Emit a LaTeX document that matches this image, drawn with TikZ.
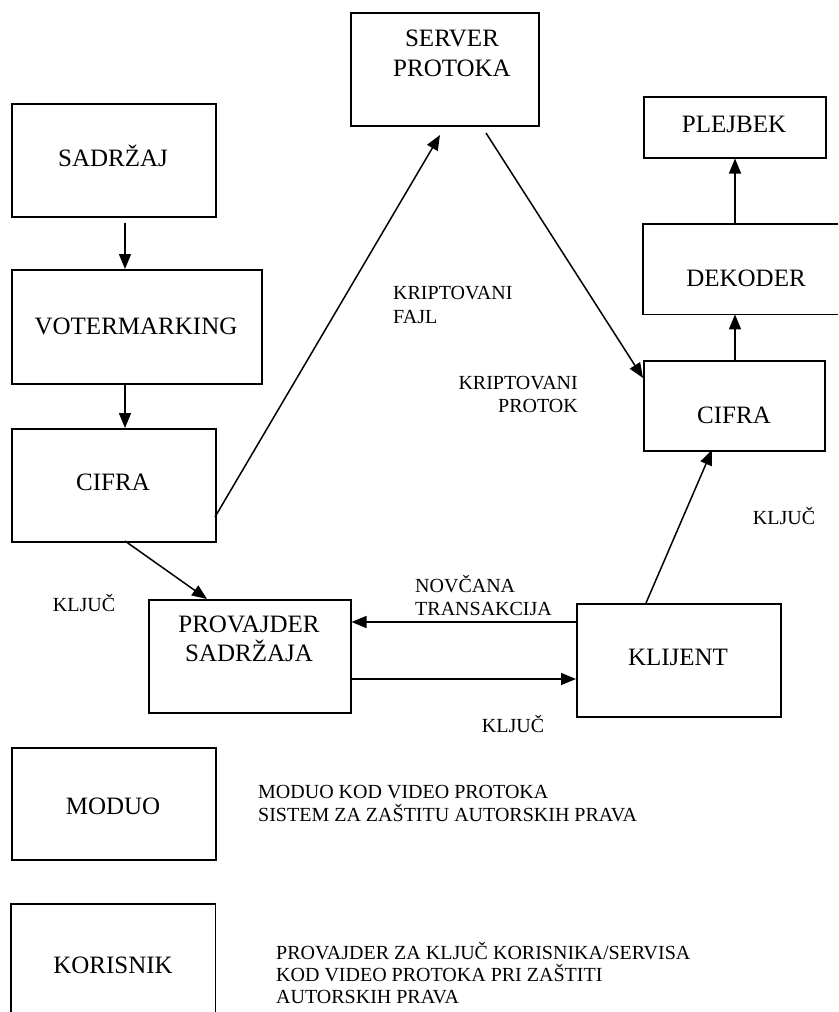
\documentclass[tikz,border=0pt]{standalone}
\usepackage{fontspec}
\setmainfont{Liberation Serif}
\usetikzlibrary{arrows.meta,calc}
\tikzset{
  box/.style={draw, line width=1.5pt, inner sep=0pt, anchor=north west},
  openbox/.style={draw=none, inner sep=0pt, anchor=north west},
  btxt/.style={inner sep=0pt, font=\fontsize{25}{30}\selectfont},
  ltxt/.style={inner sep=0pt, font=\fontsize{20}{24}\selectfont},
  arr/.style={line width=1.5pt, -{Triangle[length=15pt,width=12pt]}},
  edge/.style={line width=1.5pt}
}
\begin{document}
\begin{tikzpicture}[x=1pt,y=-1pt]
\useasboundingbox (0,0) rectangle (838,1012);
% boxes
\node[box, minimum width=188, minimum height=113] (server) at (350,12) {};
\node[box, minimum width=182, minimum height=61] (plejbek) at (643,96) {};
\node[box, minimum width=204, minimum height=113] (sadrzaj) at (11,103) {};
\node[box, minimum width=250, minimum height=114] (voter) at (11,269) {};
\node[openbox, minimum width=195, minimum height=90] (dekoder) at (643,224) {};
\draw[edge] (dekoder.north east) -- (dekoder.north west) -- (dekoder.south west) -- (dekoder.south east);
\node[box, minimum width=204, minimum height=113] (cifraL) at (11,428) {};
\node[box, minimum width=181, minimum height=90] (cifraR) at (643,360) {};
\node[box, minimum width=202, minimum height=113] (prov) at (148,599) {};
\node[box, minimum width=204, minimum height=113] (klijent) at (576,603) {};
\node[box, minimum width=204, minimum height=112] (moduo) at (11,747) {};
\node[openbox, minimum width=204, minimum height=108] (korisnik) at (11,904) {};
\draw[edge] (korisnik.south west) -- (korisnik.north west) -- (korisnik.north east) -- (korisnik.south east);
% box texts
\node[btxt, anchor=base] (tserver1) at (452,46) {SERVER};
\node[btxt, anchor=base] (tserver2) at (452,76) {PROTOKA};
\node[btxt, anchor=base] (tplejbek) at (734,132) {PLEJBEK};
\node[btxt, anchor=base] (tsadrzaj) at (113,166) {SADRŽAJ};
\node[btxt, anchor=base] (tvoter) at (136,334) {VOTERMARKING};
\node[btxt, anchor=base] (tdekoder) at (746,286) {DEKODER};
\node[btxt, anchor=base] (tcifraL) at (113,490) {CIFRA};
\node[btxt, anchor=base] (tcifraR) at (734,423) {CIFRA};
\node[btxt, anchor=base] (tprov1) at (249,632) {PROVAJDER};
\node[btxt, anchor=base] (tprov2) at (249,661) {SADRŽAJA};
\node[btxt, anchor=base] (tklijent) at (678,665) {KLIJENT};
\node[btxt, anchor=base] (tmoduo) at (113,814) {MODUO};
\node[btxt, anchor=base] (tkorisnik) at (113,973) {KORISNIK};
% labels
\node[ltxt, anchor=base west] (lkf1) at (393,299) {KRIPTOVANI};
\node[ltxt, anchor=base west] (lkf2) at (393,323) {FAJL};
\node[ltxt, anchor=base east] (lkp1) at (578,389) {KRIPTOVANI};
\node[ltxt, anchor=base east] (lkp2) at (578,412) {PROTOK};
\node[ltxt, anchor=base] (lkljucR) at (784,524) {KLJUČ};
\node[ltxt, anchor=base] (lkljucL) at (84,611) {KLJUČ};
\node[ltxt, anchor=base west] (lnov1) at (415,592) {NOVČANA};
\node[ltxt, anchor=base west] (lnov2) at (415,615) {TRANSAKCIJA};
\node[ltxt, anchor=base] (lkljucB) at (513,732) {KLJUČ};
\node[ltxt, anchor=base west] (lmod1) at (258,798) {MODUO KOD VIDEO PROTOKA};
\node[ltxt, anchor=base west] (lmod2) at (258,821) {SISTEM ZA ZAŠTITU AUTORSKIH PRAVA};
\node[ltxt, anchor=base west] (lkor1) at (276,959) {PROVAJDER ZA KLJUČ KORISNIKA/SERVISA};
\node[ltxt, anchor=base west] (lkor2) at (276,981) {KOD VIDEO PROTOKA PRI ZAŠTITI};
\node[ltxt, anchor=base west] (lkor3) at (276,1003) {AUTORSKIH PRAVA};
% connector end points
\coordinate (c1) at (125,223);
\coordinate (c2) at (125,383);
\coordinate (c3) at (215,517);
\coordinate (c4) at (440,135);
\coordinate (c5) at (486,133);
\coordinate (c6) at (643,378);
\coordinate (c7) at (735,360);
\coordinate (c8) at (125,541);
\coordinate (c9) at (207,599);
\coordinate (c10) at (646,603);
\coordinate (c11) at (712,450);
% connectors
\draw[arr] (c1) -- (c1 |- voter.north);
\draw[arr] (c2) -- (c2 |- cifraL.north);
\draw[arr] (c3) -- (c4);
\draw[arr] (c5) -- (c6);
\draw[arr] (c7) -- (c7 |- dekoder.south);
\draw[arr] (c7 |- dekoder.north) -- (c7 |- plejbek.south);
\draw[arr] (c8) -- (c9);
\draw[arr] (klijent.west |- 0,622) -- (prov.east |- 0,622);
\draw[arr] (prov.east |- 0,679) -- (klijent.west |- 0,679);
\draw[arr] (c10) -- (c11);
\end{tikzpicture}
\end{document}
